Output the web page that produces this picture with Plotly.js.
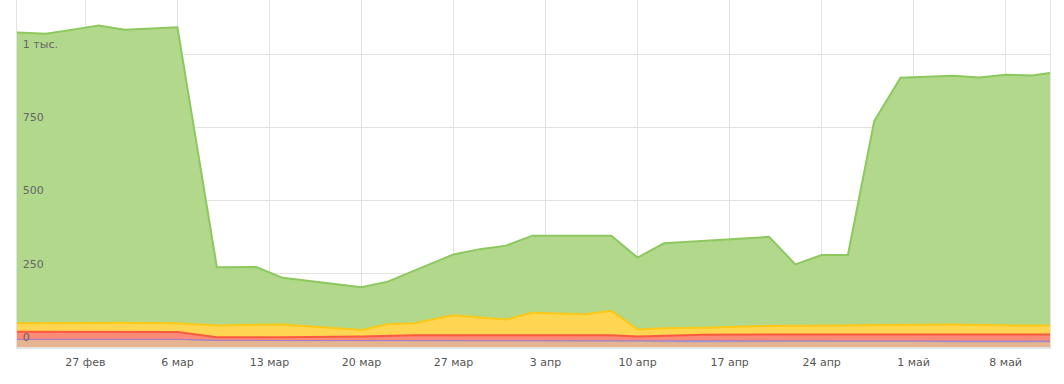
<!DOCTYPE html>
<html>
<head>
<meta charset="utf-8">
<script src="https://cdn.plot.ly/plotly-3.0.1.min.js"></script>
<style>
  html, body { margin: 0; padding: 0; background: #fff; }
  #chart { width: 1064px; height: 384px; }
</style>
</head>
<body>
<div id="chart"></div>
<script>
const dates = [
  '2017-02-21 19:06', '2017-02-24', '2017-02-27', '2017-02-28', '2017-03-02', '2017-03-06',
  '2017-03-09', '2017-03-12', '2017-03-14', '2017-03-20', '2017-03-22', '2017-03-24',
  '2017-03-27', '2017-03-29', '2017-03-31', '2017-04-02', '2017-04-04', '2017-04-06',
  '2017-04-08', '2017-04-10', '2017-04-12', '2017-04-15', '2017-04-20', '2017-04-22',
  '2017-04-24', '2017-04-26', '2017-04-28', '2017-04-30', '2017-05-01', '2017-05-04',
  '2017-05-06', '2017-05-08', '2017-05-10', '2017-05-11 08:54'
];
const brownVals  = [26, 26, 26, 26, 26, 26, 23, 22, 22, 22, 22, 22, 22, 22, 22, 22, 22, 22, 22, 20, 17, 16, 18, 20, 20, 20, 20, 20, 20, 16, 16, 16, 16, 16];
const blueVals   = [0, 0, 0, 0, 0, 0, 0, 0, 0, 0, 0, 0, 0, 0, 0, 0, 0, 0, 0, 0, 3, 4, 2, 0, 0, 0, 0, 0, 0, 4, 4, 4, 4, 4];
const purpleVals = [0, 0, 0, 0, 0, 0, 0, 0, 0, 0, 0, 0, 0, 0, 0, 0, 0, 0, 0, 0, 0, 0, 0, 0, 0, 0, 0, 0, 0, 0, 0, 0, 0, 0];
const redVals    = [26, 26, 26, 26, 26, 25, 10, 11, 11, 14, 16, 18, 18, 18, 18, 18, 18, 18, 18, 16, 19, 22, 23, 23, 23, 23, 23, 23, 23, 23, 23, 23, 23, 23];
const yellowVals = [29, 30, 32, 32, 31, 30, 40, 43, 44, 22, 40, 41, 68, 61, 54, 77, 74, 72, 84, 24, 25, 24, 29, 30, 31, 31, 31, 32, 33, 34, 32, 30, 30, 30];
const greenVals  = [992, 987, 1006, 1013, 1000, 1010, 199, 197, 159, 146, 145, 179, 208, 233, 252, 263, 267, 268, 256, 245, 290, 296, 304, 209, 240, 240, 697, 844, 845, 849, 845, 856, 854, 862];

const xTickVals   = ['2017-02-27', '2017-03-06', '2017-03-13', '2017-03-20', '2017-03-27', '2017-04-03', '2017-04-10', '2017-04-17', '2017-04-24', '2017-05-01', '2017-05-08'];
const xTickLabels = ['27 фев', '6 мар', '13 мар', '20 мар', '27 мар', '3 апр', '10 апр', '17 апр', '24 апр', '1 май', '8 май'];
const yTickVals   = [0, 250, 500, 750, 1000];
const yTickLabels = ['0', '250', '500', '750', '1 тыс.'];

function layer(vals, line, fill, width) {
  return {
    x: dates, y: vals, type: 'scatter', mode: 'lines', stackgroup: 'one',
    line: { color: line, width: width, shape: 'linear' },
    fillcolor: fill, hoverinfo: 'skip', showlegend: false
  };
}

const traces = [
  layer(brownVals,  '#d6a58f', '#e6b590', 1),
  layer(blueVals,   '#6aa3e6', 'rgba(106,163,230,0.8)', 1),
  layer(purpleVals, '#a57bd0', 'rgba(165,123,208,0.8)', 1),
  layer(redVals,    '#fb5a40', '#fb8a76', 2),
  layer(yellowVals, '#fdc816', '#fed652', 2),
  layer(greenVals,  '#8dc85e', '#b2d88c', 2)
];

const layout = {
  width: 1064, height: 384,
  margin: { l: 17, r: 14, t: 0, b: 37, pad: 0 },
  paper_bgcolor: '#fff', plot_bgcolor: '#fff',
  font: { family: 'DejaVu Sans, Verdana, sans-serif', size: 11, color: '#555' },
  xaxis: {
    type: 'date',
    range: ['2017-02-21 19:06', '2017-05-11 08:54'],
    tickmode: 'array', tickvals: xTickVals, ticktext: xTickLabels,
    showgrid: true, gridcolor: '#e3e3e3', gridwidth: 1,
    showline: true, linecolor: '#e3e3e3', linewidth: 2,
    ticks: '', zeroline: false, fixedrange: true,
    ticklabelstandoff: 4,
    tickfont: { size: 11, color: '#555' }
  },
  yaxis: {
    range: [0, 1184.3],
    tickmode: 'array', tickvals: yTickVals, ticktext: yTickLabels,
    ticklabelposition: 'inside', ticklabelshift: -10, ticklabelstandoff: 5,
    showgrid: true, gridcolor: '#e3e3e3', gridwidth: 1,
    showline: true, linecolor: '#e3e3e3', linewidth: 1, mirror: true,
    ticks: '', zeroline: false, fixedrange: true,
    tickfont: { size: 11, color: '#666' }
  },
  hovermode: false
};

Plotly.newPlot('chart', traces, layout, { displayModeBar: false, staticPlot: true });
</script>
</body>
</html>
